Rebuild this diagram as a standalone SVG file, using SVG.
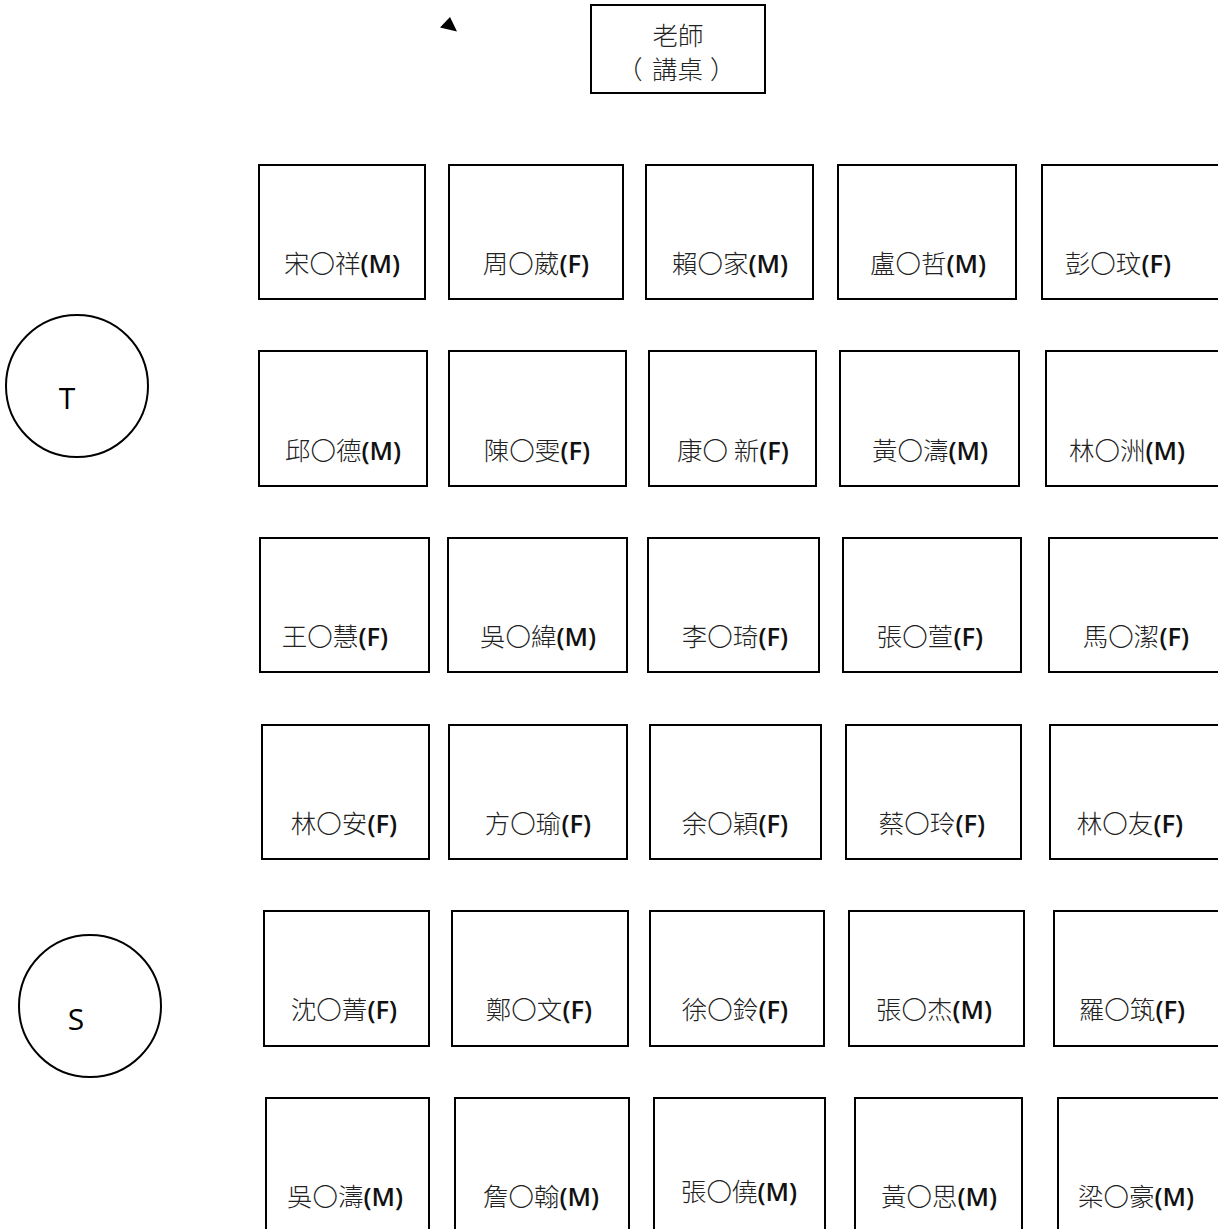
<svg xmlns="http://www.w3.org/2000/svg" width="1218" height="1229" viewBox="0 0 1218 1229">
<style>
.b{fill:#fff;stroke:#000;stroke-width:2}
.c{fill:#fff;stroke:#000;stroke-width:2}
.t{font-family:"Noto Sans CJK TC","Noto Sans CJK SC",sans-serif;font-size:25.5px;fill:#222;text-anchor:middle;font-weight:300}
.s{font-family:"Noto Sans CJK TC","Noto Sans CJK SC",sans-serif;font-size:25.5px;fill:#222;font-weight:300}
.g{font-family:"Open Sans","Noto Sans",sans-serif;font-weight:600;fill:#111}
.l{font-family:"Open Sans","Noto Sans",sans-serif;font-size:30px;fill:#000;text-anchor:middle}
</style>
<rect width="1218" height="1229" fill="#fff"/>
<g id="marker"><polygon points="450,17 440,27.5 457,31.5" fill="#000"/></g>
<g id="teacher-desk"><rect class="b" x="591" y="5" width="174" height="88"/><text class="t" x="678" y="45">老師</text><text class="s" y="79"><tspan x="617">（</tspan><tspan x="652">講桌</tspan><tspan x="710">）</tspan></text></g>
<g id="T"><circle class="c" cx="77" cy="386" r="71"/><text class="l" x="67" y="409">T</text></g>
<g id="S"><circle class="c" cx="90" cy="1006" r="71"/><text class="l" x="76" y="1030">S</text></g>
<g id="r1">
<g id="s11"><rect class="b" x="259" y="165" width="166" height="134"/><text class="t" x="342" y="273">宋〇祥<tspan class="g">(M)</tspan></text></g>
<g id="s12"><rect class="b" x="449" y="165" width="174" height="134"/><text class="t" x="536" y="273">周〇葳<tspan class="g">(F)</tspan></text></g>
<g id="s13"><rect class="b" x="646" y="165" width="167" height="134"/><text class="t" x="730" y="273">賴〇家<tspan class="g">(M)</tspan></text></g>
<g id="s14"><rect class="b" x="838" y="165" width="178" height="134"/><text class="t" x="928" y="273">盧〇哲<tspan class="g">(M)</tspan></text></g>
<g id="s15"><rect class="b" x="1042" y="165" width="180" height="134"/><text class="t" x="1118" y="273">彭〇玟<tspan class="g">(F)</tspan></text></g>
</g>
<g id="r2">
<g id="s21"><rect class="b" x="259" y="351" width="168" height="135"/><text class="t" x="343" y="460">邱〇德<tspan class="g">(M)</tspan></text></g>
<g id="s22"><rect class="b" x="449" y="351" width="177" height="135"/><text class="t" x="537" y="460">陳〇雯<tspan class="g">(F)</tspan></text></g>
<g id="s23"><rect class="b" x="649" y="351" width="167" height="135"/><text class="t" x="733" y="460">康〇 新<tspan class="g">(F)</tspan></text></g>
<g id="s24"><rect class="b" x="840" y="351" width="179" height="135"/><text class="t" x="930" y="460">黃〇濤<tspan class="g">(M)</tspan></text></g>
<g id="s25"><rect class="b" x="1046" y="351" width="176" height="135"/><text class="t" x="1127" y="460">林〇洲<tspan class="g">(M)</tspan></text></g>
</g>
<g id="r3">
<g id="s31"><rect class="b" x="260" y="538" width="169" height="134"/><text class="t" x="335" y="646">王〇慧<tspan class="g">(F)</tspan></text></g>
<g id="s32"><rect class="b" x="448" y="538" width="179" height="134"/><text class="t" x="538" y="646">吳〇緯<tspan class="g">(M)</tspan></text></g>
<g id="s33"><rect class="b" x="648" y="538" width="171" height="134"/><text class="t" x="735" y="646">李〇琦<tspan class="g">(F)</tspan></text></g>
<g id="s34"><rect class="b" x="843" y="538" width="178" height="134"/><text class="t" x="930" y="646">張〇萱<tspan class="g">(F)</tspan></text></g>
<g id="s35"><rect class="b" x="1049" y="538" width="173" height="134"/><text class="t" x="1136" y="646">馬〇潔<tspan class="g">(F)</tspan></text></g>
</g>
<g id="r4">
<g id="s41"><rect class="b" x="262" y="725" width="167" height="134"/><text class="t" x="344" y="833">林〇安<tspan class="g">(F)</tspan></text></g>
<g id="s42"><rect class="b" x="449" y="725" width="178" height="134"/><text class="t" x="538" y="833">方〇瑜<tspan class="g">(F)</tspan></text></g>
<g id="s43"><rect class="b" x="650" y="725" width="171" height="134"/><text class="t" x="735" y="833">余〇穎<tspan class="g">(F)</tspan></text></g>
<g id="s44"><rect class="b" x="846" y="725" width="175" height="134"/><text class="t" x="932" y="833">蔡〇玲<tspan class="g">(F)</tspan></text></g>
<g id="s45"><rect class="b" x="1050" y="725" width="172" height="134"/><text class="t" x="1130" y="833">林〇友<tspan class="g">(F)</tspan></text></g>
</g>
<g id="r5">
<g id="s51"><rect class="b" x="264" y="911" width="165" height="135"/><text class="t" x="344" y="1019">沈〇菁<tspan class="g">(F)</tspan></text></g>
<g id="s52"><rect class="b" x="452" y="911" width="176" height="135"/><text class="t" x="539" y="1019">鄭〇文<tspan class="g">(F)</tspan></text></g>
<g id="s53"><rect class="b" x="650" y="911" width="174" height="135"/><text class="t" x="735" y="1019">徐〇鈴<tspan class="g">(F)</tspan></text></g>
<g id="s54"><rect class="b" x="849" y="911" width="175" height="135"/><text class="t" x="934" y="1019">張〇杰<tspan class="g">(M)</tspan></text></g>
<g id="s55"><rect class="b" x="1054" y="911" width="168" height="135"/><text class="t" x="1132" y="1019">羅〇筑<tspan class="g">(F)</tspan></text></g>
</g>
<g id="r6">
<g id="s61"><rect class="b" x="266" y="1098" width="163" height="140"/><text class="t" x="345" y="1206">吳〇濤<tspan class="g">(M)</tspan></text></g>
<g id="s62"><rect class="b" x="455" y="1098" width="174" height="140"/><text class="t" x="541" y="1206">詹〇翰<tspan class="g">(M)</tspan></text></g>
<g id="s63"><rect class="b" x="654" y="1098" width="171" height="140"/><text class="t" x="739" y="1201">張〇僥<tspan class="g">(M)</tspan></text></g>
<g id="s64"><rect class="b" x="855" y="1098" width="167" height="140"/><text class="t" x="939" y="1206">黃〇思<tspan class="g">(M)</tspan></text></g>
<g id="s65"><rect class="b" x="1058" y="1098" width="164" height="140"/><text class="t" x="1136" y="1206">梁〇豪<tspan class="g">(M)</tspan></text></g>
</g>
<g id="connectors"></g>
</svg>
